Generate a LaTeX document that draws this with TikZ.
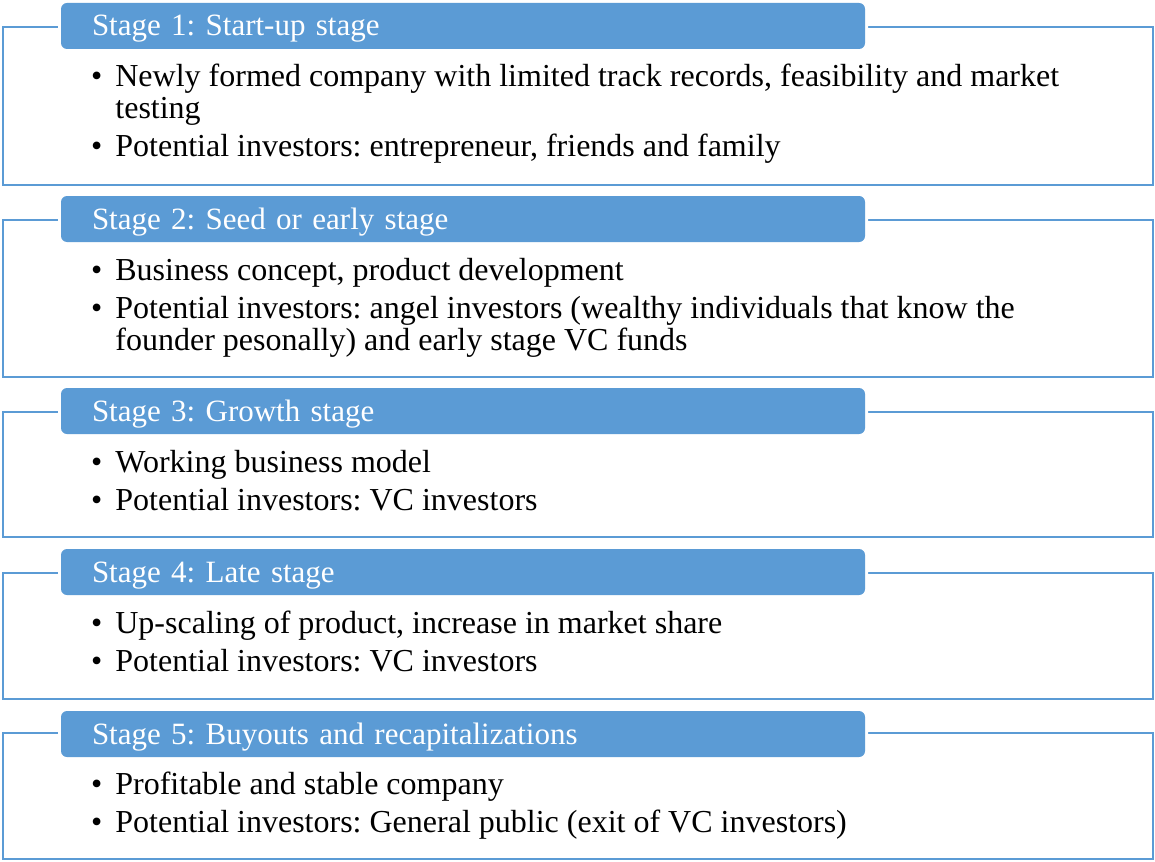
\documentclass[tikz,border=0pt]{standalone}
\usepackage{fontspec}
\setmainfont{Liberation Serif}
\usepackage{xcolor}
\usetikzlibrary{positioning}
\definecolor{stageblue}{HTML}{5B9BD5}
\definecolor{bodyink}{HTML}{000000}
\frenchspacing
\tikzset{
  every node/.style={font=\fontsize{32}{31.5}\selectfont,text=bodyink},
  frame/.style={draw=stageblue,line width=2.5pt,fill=white,anchor=north west,outer sep=0pt,inner sep=0pt,minimum width=1150pt},
  header/.style={fill=stageblue,rounded corners=6pt,preaction={draw=white,line width=6pt},
    anchor=west,outer sep=0pt,inner xsep=31pt,inner ysep=0pt,text width=742pt,align=left,
    font=\fontsize{31}{31.5}\selectfont,
    minimum height=46pt,text height=21pt,text depth=1pt,text=white},
  bullets/.style={anchor=base west,inner sep=0pt,align=left}
}
\newcommand{\stagelist}[1]{\begin{tabular}[t]{@{}l@{\hspace{13pt}}l@{}}#1\end{tabular}}
\begin{document}
\begin{tikzpicture}[x=1pt,y=-1pt]
  \useasboundingbox (0,0) rectangle (1155,861);
  % frames
  \node[frame,minimum height=158pt] (frame1) at (3,27) {};
  \node[frame,minimum height=157pt] (frame2) at (3,220) {};
  \node[frame,minimum height=125pt] (frame3) at (3,412) {};
  \node[frame,minimum height=126pt] (frame4) at (3,573) {};
  \node[frame,minimum height=126pt] (frame5) at (3,733) {};
  % headers
  \node[header] (head1) at (61,26) {Stage 1: Start-up stage};
  \node[header] (head2) at (61,219) {Stage 2: Seed or early stage};
  \node[header] (head3) at (61,411) {Stage 3: Growth stage};
  \node[header] (head4) at (61,572) {Stage 4: Late stage};
  \node[header] (head5) at (61,734) {Stage 5: Buyouts and recapitalizations};
  % bullet lists
  \node[bullets] (list1) at (91,87) {\stagelist{%
    \textbullet & Newly formed company with limited track records, feasibility and market\\
      & testing\\[6.5pt]
    \textbullet & Potential investors: entrepreneur, friends and family}};
  \node[bullets] (list2) at (91,280) {\stagelist{%
    \textbullet & Business concept, product development\\[6.5pt]
    \textbullet & Potential investors: angel investors (wealthy individuals that know the\\
      & founder pesonally) and early stage VC funds}};
  \node[bullets] (list3) at (91,472) {\stagelist{%
    \textbullet & Working business model\\[6.5pt]
    \textbullet & Potential investors: VC investors}};
  \node[bullets] (list4) at (91,633) {\stagelist{%
    \textbullet & Up-scaling of product, increase in market share\\[6.5pt]
    \textbullet & Potential investors: VC investors}};
  \node[bullets] (list5) at (91,794) {\stagelist{%
    \textbullet & Profitable and stable company\\[6.5pt]
    \textbullet & Potential investors: General public (exit of VC investors)}};
\end{tikzpicture}
\end{document}
